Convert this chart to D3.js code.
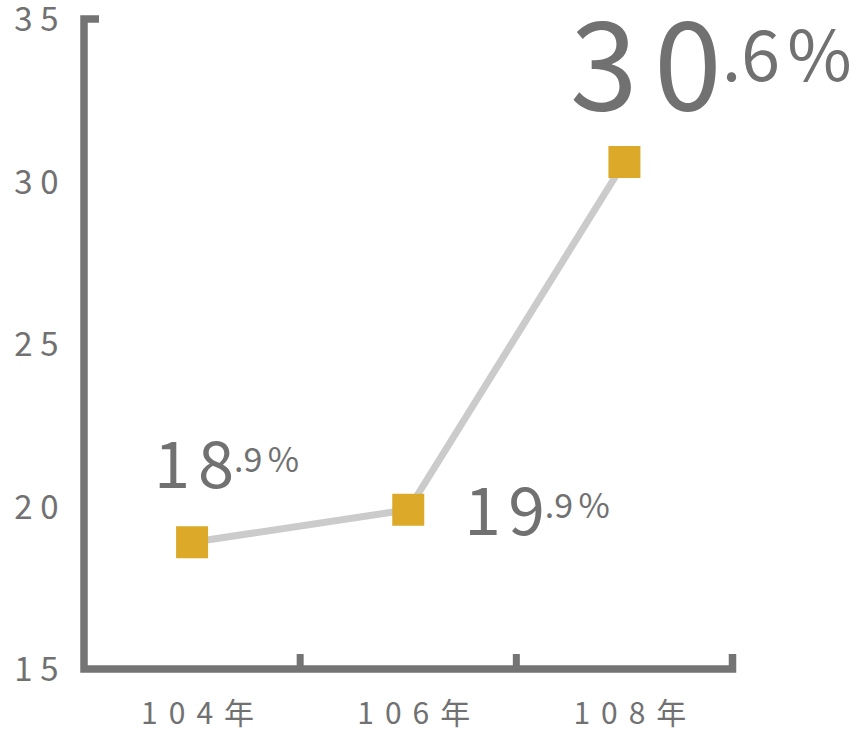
<!DOCTYPE html>
<html><head><meta charset="utf-8">
<script src="https://cdn.jsdelivr.net/npm/d3@7"></script>
<style>
html,body{margin:0;padding:0;background:#fff;}
svg{display:block;font-family:"Noto Sans CJK TC","Noto Sans CJK SC","Noto Sans",sans-serif;}
</style></head>
<body>
<svg id="chart" width="864" height="735"></svg>
<script>
// ---- data ----
const categories = ["104年", "106年", "108年"];
const values = [18.9, 19.9, 30.6];
const yTicks = [15, 20, 25, 30, 35];

// ---- layout (not data) ----
const labelOffsets = [ {dx:-38,   dy:-54, big:65,  small:34, rise:16, ls:0.12, pct:0.16},
                       {dx:56,    dy:25,  big:66,  small:34, rise:17, ls:0.11, pct:0.16},
                       {dx:-54.5, dy:-52, big:122, small:70, rise:29, ls:0.135, pct:0.1} ];

const svg = d3.select("#chart");
const axisColor = "#747474", textColor = "#717171";
const x0 = 84, x1 = 732.5, yTop = 19, yBot = 669;

const x = d3.scaleBand().domain(categories).range([x0, x1]);
const y = d3.scaleLinear().domain([15, 35]).range([yBot, yTop]);
const cx = c => x(c) + x.bandwidth()/2;

// grey line
svg.append("path")
  .datum(values)
  .attr("fill","none").attr("stroke","#cbcbcb").attr("stroke-width",7)
  .attr("d", d3.line().x((d,i)=>cx(categories[i])).y(d=>y(d)));

// axes frame with inner stubs
const stub = 15;
svg.append("path")
  .attr("fill","none").attr("stroke",axisColor).attr("stroke-width",7.5)
  .attr("stroke-linejoin","miter").attr("stroke-linecap","butt")
  .attr("d", `M${x0+stub},${y(35)}H${x0}V${y(15)}H${x1}V${y(15)-stub}`);

// x inner ticks at band boundaries
svg.selectAll("line.xt").data(categories.slice(1)).enter().append("line")
  .attr("x1", d=>x(d)).attr("x2", d=>x(d))
  .attr("y1", y(15)).attr("y2", y(15)-stub)
  .attr("stroke",axisColor).attr("stroke-width",7);

// y axis labels via d3 axis
const gy = svg.append("g").attr("transform",`translate(${x0},0)`)
  .call(d3.axisLeft(y).tickValues(yTicks).tickSize(0).tickPadding(18).tickFormat(d3.format("d")));
gy.select(".domain").remove();
gy.selectAll("text").attr("fill",textColor).attr("font-size",33)
  .attr("font-family",'"Noto Sans CJK TC",sans-serif')
  .style("letter-spacing","7.5px").attr("dy","0.36em");

// x axis labels via d3 axis
const gx = svg.append("g").attr("transform",`translate(0,${y(15)})`)
  .call(d3.axisBottom(x).tickSize(0).tickPadding(0));
gx.select(".domain").remove();
gx.selectAll("text").attr("fill",textColor).attr("font-size",30)
  .attr("font-family",'"Noto Sans CJK TC",sans-serif')
  .attr("text-anchor","start")
  .style("letter-spacing","11px").attr("x",-51).attr("y",55).attr("dy",0);

// markers
const ms = 32;
svg.selectAll("rect.m").data(values).enter().append("rect")
  .attr("x",(d,i)=>cx(categories[i])-ms/2)
  .attr("y",d=>y(d)-ms/2)
  .attr("width",ms).attr("height",ms)
  .attr("fill","#dcaa28");

// value labels
values.forEach((v,i)=>{
  const o = labelOffsets[i];
  const px = cx(categories[i]), py = y(v);
  const parts = d3.format(".1f")(v).split(".");
  const lsBig = o.big*o.ls;
  const t = svg.append("text").attr("x",px+o.dx).attr("y",py+o.dy).attr("fill",textColor);
  t.append("tspan").attr("font-size",o.big).style("letter-spacing",lsBig+"px").text(parts[0]);
  t.append("tspan").attr("font-size",o.small).attr("dy",-o.rise).attr("dx",-lsBig)
    .style("letter-spacing","0px").text("."+parts[1]);
  t.append("tspan").attr("font-size",o.small).attr("dx",o.small*o.pct).text("%");
});
</script>
</body></html>
